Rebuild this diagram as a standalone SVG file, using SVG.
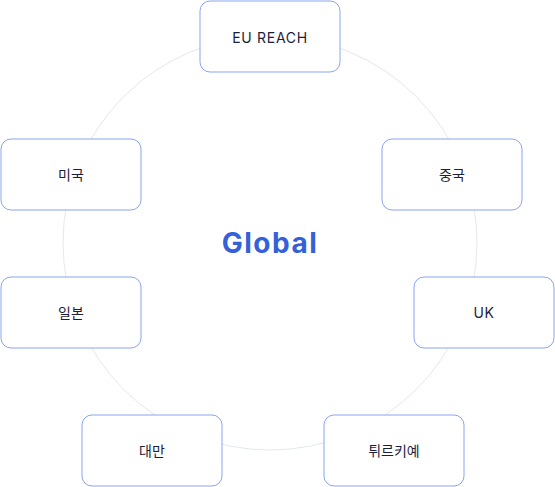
<svg xmlns="http://www.w3.org/2000/svg" width="555" height="487" viewBox="0 0 555 487">
<style>
.box{fill:#ffffff;stroke:#89a5f0;stroke-width:1}
.lbl{font-family:Inter,"Noto Sans CJK KR","Noto Sans",sans-serif;font-size:14px;fill:#1c1d3a;text-anchor:middle;dominant-baseline:central}
.lat{letter-spacing:0.7px}
.ring{fill:none;stroke:#e3e7f0;stroke-width:1}
</style>
<rect width="555" height="487" fill="#ffffff"/>
<g id="connectors"><circle class="ring" cx="270" cy="243" r="207"/></g>
<g id="global"><text x="270" y="243" font-family="Inter,'Noto Sans',sans-serif" font-size="28" font-weight="700" letter-spacing="1.5" fill="#3461d9" text-anchor="middle" dominant-baseline="central">Global</text></g>
<g id="eu"><rect class="box" x="200" y="1" width="140" height="71" rx="10"/><text class="lbl lat" x="270" y="37">EU REACH</text></g>
<g id="us"><rect class="box" x="1" y="139" width="140" height="71" rx="10"/><text class="lbl" x="71" y="174">미국</text></g>
<g id="cn"><rect class="box" x="382" y="139" width="140" height="71" rx="10"/><text class="lbl" x="452" y="174">중국</text></g>
<g id="jp"><rect class="box" x="1" y="277" width="140" height="71" rx="10"/><text class="lbl" x="71" y="312">일본</text></g>
<g id="uk"><rect class="box" x="414" y="277" width="140" height="71" rx="10"/><text class="lbl lat" x="484" y="312">UK</text></g>
<g id="tw"><rect class="box" x="82" y="415" width="140" height="71" rx="10"/><text class="lbl" x="152" y="450">대만</text></g>
<g id="tr"><rect class="box" x="324" y="415" width="140" height="71" rx="10"/><text class="lbl" x="394" y="450">튀르키예</text></g>
</svg>
